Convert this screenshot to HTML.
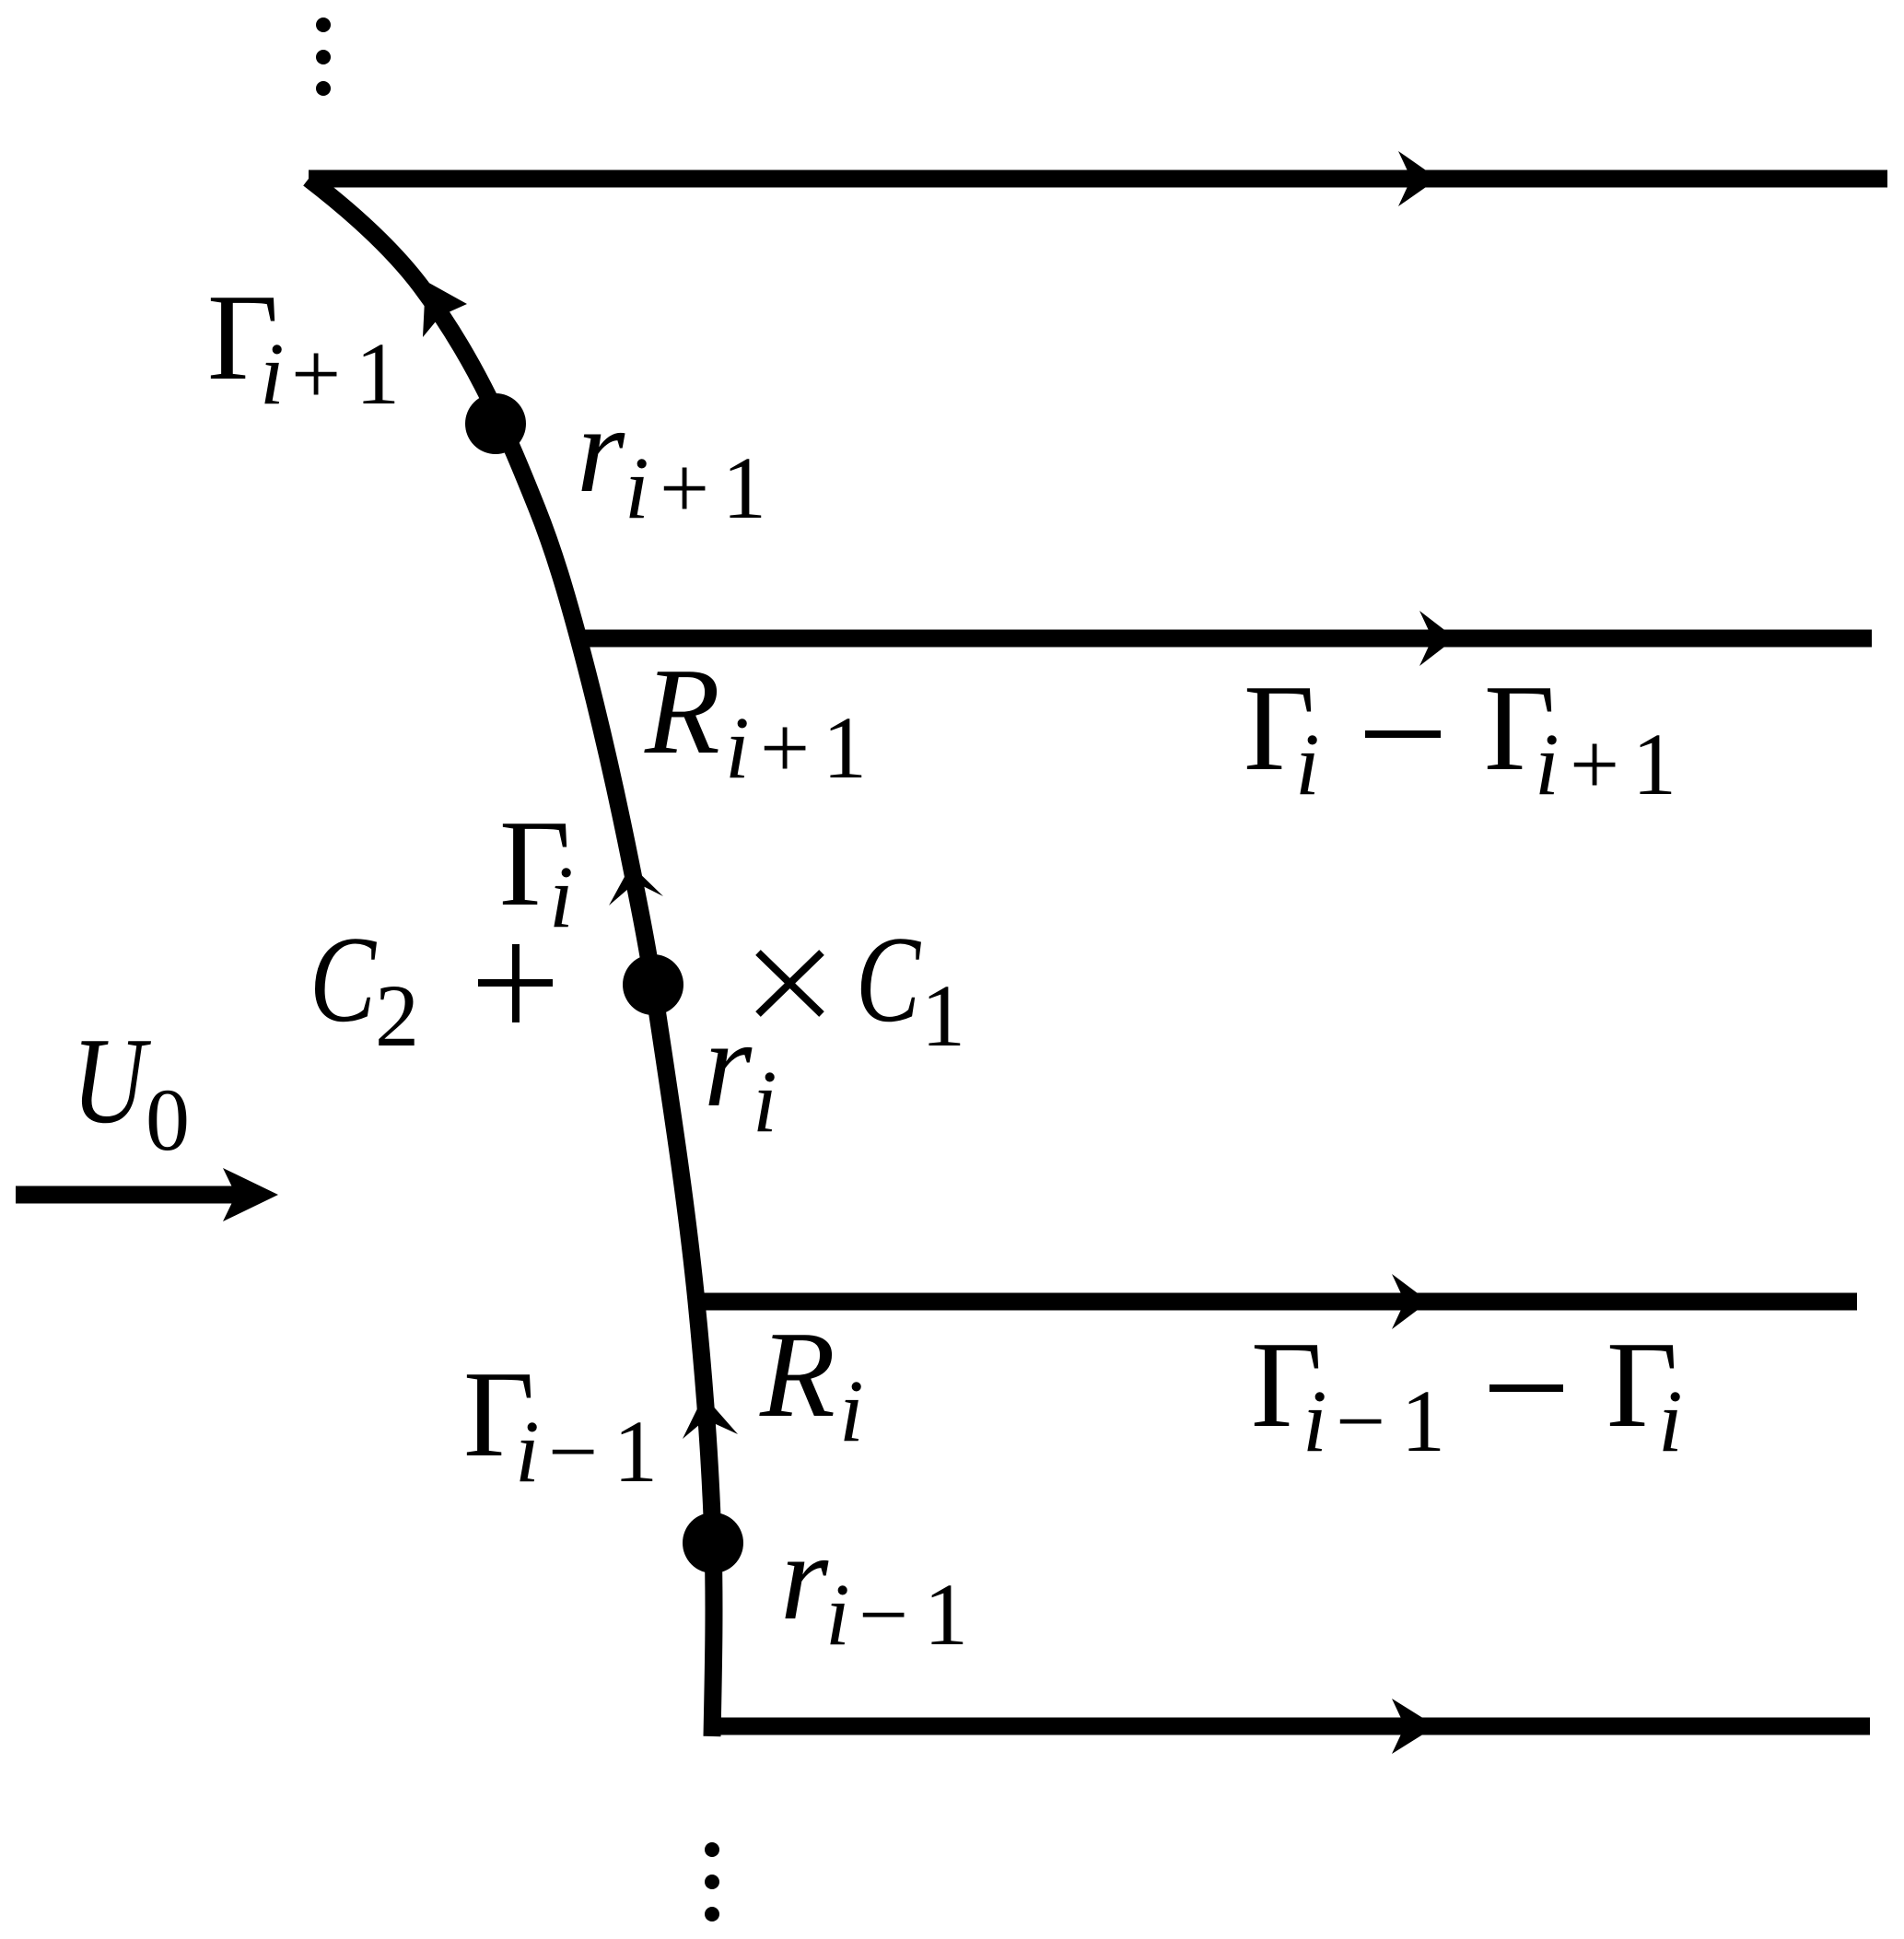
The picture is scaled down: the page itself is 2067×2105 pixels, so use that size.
<!DOCTYPE html>
<html><head><meta charset="utf-8"><style>
html,body{margin:0;padding:0;background:#fff;}
svg{display:block;}
text{font-family:"Liberation Serif",serif;fill:#000;}
.m{font-size:134px;}
.s{font-size:96px;}
.it{font-style:italic;}
</style></head><body>
<svg width="2067" height="2105" viewBox="0 0 2067 2105" xmlns="http://www.w3.org/2000/svg">
<g fill="#000">
<circle cx="351" cy="27" r="8"/><circle cx="351" cy="62" r="8"/><circle cx="351" cy="96" r="8"/>
<circle cx="773" cy="2008" r="8"/><circle cx="773" cy="2043" r="8"/><circle cx="773" cy="2078" r="8"/>
</g>
<g stroke="#000" stroke-width="19" fill="none">
<line x1="335" y1="194" x2="2049" y2="194"/>
<line x1="626" y1="693" x2="2032" y2="693"/>
<line x1="750" y1="1413" x2="2016" y2="1413"/>
<line x1="773" y1="1874" x2="2030" y2="1874"/>
<path d="M335,194 C385.7,233 427.7,272 457,311 C517.2,391.3 550.9,471.7 583,552 C601.8,599 615.3,646 628,693 C650.1,775 668.6,857 685,939 C693.7,982.3 702.5,1025.7 709,1069 C726.2,1183.7 744.5,1298.3 756,1413 C764.7,1500.3 771.4,1587.7 774,1675 C776.1,1745 774.4,1815 773,1885"/>
<line x1="17" y1="1297" x2="270" y2="1297"/>
</g>
<g fill="#000">
<polygon points="1561,194 1518,164 1532,194 1518,224"/>
<polygon points="1580,693 1541,663 1555,693 1541,723"/>
<polygon points="1551,1413 1511,1383 1525,1413 1511,1443"/>
<polygon points="1559,1874 1511,1844 1525,1874 1511,1904"/>
<polygon points="302,1297 242,1268 256,1297 242,1326"/>
<polygon points="462,305 459,366 478,343 507,330"/>
<polygon points="685,939 661,983 690,958 720,973"/>
<polygon points="764,1515 741,1562 766,1541 801,1557"/>
<circle cx="538" cy="460" r="33"/>
<circle cx="709" cy="1069" r="33"/>
<circle cx="774" cy="1675" r="33"/>
</g>
<g stroke="#000" stroke-width="8">
<line x1="519" y1="1067" x2="600" y2="1067"/><line x1="560" y1="1025" x2="560" y2="1110"/>
<line x1="823" y1="1034" x2="892" y2="1101"/><line x1="892" y1="1034" x2="823" y2="1101"/>
</g>
<text class="m" x="225" y="411">Γ</text><text class="s"><tspan class="it" x="282" y="438">i</tspan><tspan x="316" y="438">+</tspan><tspan x="386" y="438">1</tspan></text>
<text class="m it" x="626" y="533">r</text><text class="s"><tspan class="it" x="678" y="562">i</tspan><tspan x="716" y="562">+</tspan><tspan x="784" y="562">1</tspan></text>
<text class="m it" x="700" y="817">R</text><text class="s"><tspan class="it" x="787" y="844">i</tspan><tspan x="825" y="844">+</tspan><tspan x="893" y="844">1</tspan></text>
<text class="m" x="542" y="982">Γ</text><text class="s it" x="596" y="1006">i</text>
<text class="m it" x="336" y="1108" textLength="72" lengthAdjust="spacingAndGlyphs">C</text><text class="s" x="407" y="1135">2</text>
<text class="m it" x="929" y="1108" textLength="70" lengthAdjust="spacingAndGlyphs">C</text><text class="s" x="1000" y="1135">1</text>
<text class="m it" x="764" y="1200">r</text><text class="s it" x="817" y="1228">i</text>
<text class="m it" x="78" y="1218" textLength="80" lengthAdjust="spacingAndGlyphs">U</text><text class="s" x="158" y="1248">0</text>
<text class="m" x="503" y="1580">Γ</text><text class="s"><tspan class="it" x="559" y="1608">i</tspan><tspan x="595" y="1608">−</tspan><tspan x="666" y="1608">1</tspan></text>
<text class="m it" x="825" y="1537">R</text><text class="s it" x="911" y="1564">i</text>
<text class="m it" x="847" y="1757">r</text><text class="s"><tspan class="it" x="896" y="1785">i</tspan><tspan x="932" y="1785">−</tspan><tspan x="1003" y="1785">1</tspan></text>
<text class="m" x="1350" y="835">Γ</text><text class="s it" x="1406" y="862">i</text>
<rect x="1482" y="793" width="82" height="8"/>
<text class="m" x="1611" y="835">Γ</text><text class="s"><tspan class="it" x="1666" y="862">i</tspan><tspan x="1704" y="862">+</tspan><tspan x="1772" y="862">1</tspan></text>
<text class="m" x="1358" y="1548">Γ</text><text class="s"><tspan class="it" x="1414" y="1575">i</tspan><tspan x="1450" y="1575">−</tspan><tspan x="1521" y="1575">1</tspan></text>
<rect x="1617" y="1503" width="80" height="8"/>
<text class="m" x="1744" y="1548">Γ</text><text class="s it" x="1800" y="1575">i</text>
</svg>
</body></html>
